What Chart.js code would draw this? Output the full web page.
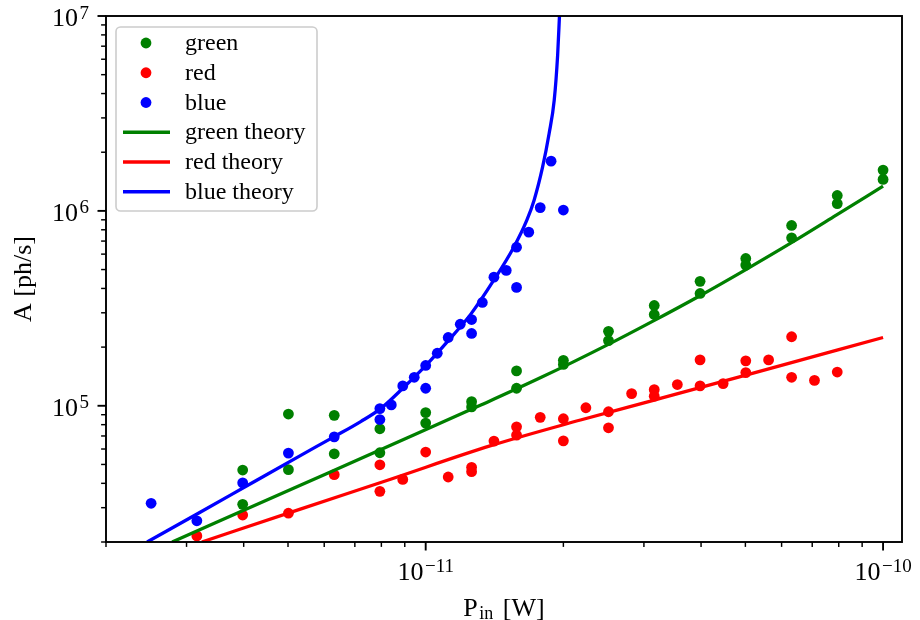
<!DOCTYPE html>
<html>
<head>
<meta charset="utf-8">
<script src="https://cdn.jsdelivr.net/npm/chart.js@4"></script>
<style>
  html, body { margin: 0; padding: 0; background: #fff; }
  #wrap { width: 920px; height: 620px; }
</style>
</head>
<body>
<div id="wrap"><canvas id="chart" width="920" height="620"></canvas></div>
<script>
// axis ranges and labelled decades
const xMin = 2e-12, xMax = 1.1e-10;
const yMin = 2e4, yMax = 1e7;
const xMajorTicks = [1e-11, 1e-10];
const xMajorExps = ["\u221211", "\u221210"];
const yMajorTicks = [1e5, 1e6, 1e7];
const yMajorExps = ["5", "6", "7"];
const xTitle = ["P", "in", " [W]"];
const yTitle = "A [ph/s]";

// measured points
const greenX = [3.98e-12, 3.98e-12, 5.01e-12, 5.01e-12, 6.31e-12, 6.31e-12, 7.94e-12, 7.94e-12,
  1.0e-11, 1.0e-11, 1.26e-11, 1.26e-11, 1.58e-11, 1.58e-11, 2.0e-11, 2.0e-11,
  2.51e-11, 2.51e-11, 3.16e-11, 3.16e-11, 3.98e-11, 3.98e-11, 5.01e-11, 5.01e-11,
  6.31e-11, 6.31e-11, 7.94e-11, 7.94e-11, 1.0e-10, 1.0e-10];
const greenY = [4.68e4, 3.12e4, 9.07e4, 4.70e4, 8.93e4, 5.67e4, 7.62e4, 5.74e4,
  9.23e4, 8.15e4, 1.05e5, 9.87e4, 1.51e5, 1.23e5, 1.71e5, 1.63e5,
  2.41e5, 2.16e5, 3.27e5, 2.94e5, 4.35e5, 3.77e5, 5.70e5, 5.27e5,
  8.42e5, 7.27e5, 1.20e6, 1.09e6, 1.62e6, 1.45e6];

const redX = [3.16e-12, 3.98e-12, 5.01e-12, 6.31e-12, 7.94e-12, 7.94e-12, 8.91e-12, 1.0e-11,
  1.12e-11, 1.26e-11, 1.26e-11, 1.41e-11, 1.58e-11, 1.58e-11, 1.78e-11, 2.0e-11, 2.0e-11,
  2.24e-11, 2.51e-11, 2.51e-11, 2.82e-11, 3.16e-11, 3.16e-11, 3.55e-11, 3.98e-11, 3.98e-11,
  4.47e-11, 5.01e-11, 5.01e-11, 5.62e-11, 6.31e-11, 6.31e-11, 7.08e-11, 7.94e-11];
const redY = [2.15e4, 2.75e4, 2.81e4, 4.43e4, 4.98e4, 3.64e4, 4.19e4, 5.79e4,
  4.31e4, 4.83e4, 4.59e4, 6.59e4, 7.80e4, 7.07e4, 8.72e4, 8.58e4, 6.61e4,
  9.77e4, 9.32e4, 7.71e4, 1.155e5, 1.21e5, 1.12e5, 1.285e5, 1.72e5, 1.265e5,
  1.30e5, 1.70e5, 1.48e5, 1.72e5, 2.26e5, 1.40e5, 1.35e5, 1.49e5];

const blueX = [2.51e-12, 3.16e-12, 3.98e-12, 5.01e-12, 6.31e-12, 7.94e-12, 7.94e-12, 8.41e-12,
  8.91e-12, 9.44e-12, 1.0e-11, 1.0e-11, 1.06e-11, 1.12e-11, 1.19e-11, 1.26e-11, 1.26e-11,
  1.33e-11, 1.41e-11, 1.5e-11, 1.58e-11, 1.58e-11, 1.68e-11, 1.78e-11, 1.88e-11, 2.0e-11];
const blueY = [3.16e4, 2.57e4, 4.02e4, 5.72e4, 6.93e4, 9.67e4, 8.50e4, 1.01e5,
  1.265e5, 1.40e5, 1.61e5, 1.23e5, 1.86e5, 2.24e5, 2.62e5, 2.77e5, 2.35e5,
  3.39e5, 4.57e5, 4.95e5, 6.51e5, 4.05e5, 7.78e5, 1.04e6, 1.80e6, 1.01e6];

// theory curves
const greenTheoryX = [2.79e-12, 5.32e-12, 8.38e-12, 1.32e-11, 1.785e-11, 2.49e-11, 3.14e-11,
  3.96e-11, 4.99e-11, 6.28e-11, 7.90e-11, 1.0e-10];
const greenTheoryY = [2.0e4, 3.91e4, 6.27e4, 1.008e5, 1.395e5, 2.048e5, 2.72e5,
  3.65e5, 4.97e5, 6.83e5, 9.51e5, 1.34e6];

const redTheoryX = [3.24e-12, 5.32e-12, 8.38e-12, 1.388e-11, 2.18e-11, 3.16e-11, 5.06e-11, 1.0e-10];
const redTheoryY = [2.0e4, 2.95e4, 4.20e4, 6.24e4, 8.45e4, 1.07e5, 1.445e5, 2.24e5];

const blueTheoryX = [2.46e-12, 3.22e-12, 4.14e-12, 5.32e-12, 6.30e-12, 7.21e-12, 7.97e-12,
  8.92e-12, 1.0e-11, 1.123e-11, 1.255e-11, 1.409e-11, 1.558e-11, 1.664e-11, 1.726e-11,
  1.801e-11, 1.862e-11, 1.910e-11, 1.943e-11, 1.961e-11];
const blueTheoryY = [2.0e4, 2.85e4, 3.98e4, 5.55e4, 6.93e4, 8.30e4, 9.67e4,
  1.233e5, 1.608e5, 2.173e5, 2.953e5, 4.41e5, 6.51e5, 8.96e5, 1.135e6,
  1.675e6, 2.503e6, 3.70e6, 6.29e6, 1.0e7];

const SERIF = "'Liberation Serif', 'DejaVu Serif', serif";
const zip = (xs, ys) => xs.map((x, i) => ({ x, y: ys[i] }));

function points(label, color, xs, ys, order) {
  return {
    label, data: zip(xs, ys), order,
    showLine: false, pointRadius: 5.4, pointHoverRadius: 5.4,
    pointBackgroundColor: color, pointBorderWidth: 0, borderColor: color, backgroundColor: color
  };
}

function theory(label, color, xs, ys, order) {
  return {
    label, data: zip(xs, ys), order,
    showLine: true, pointRadius: 0, pointHoverRadius: 0,
    borderColor: color, backgroundColor: color, borderWidth: 3.3,
    cubicInterpolationMode: "monotone", fill: false, clip: 0
  };
}

function drawPower(ctx, exp, x, baseY, align) {
  ctx.font = `26px ${SERIF}`;
  const wb = ctx.measureText("10").width;
  ctx.font = `19px ${SERIF}`;
  const we = ctx.measureText(exp).width;
  const total = wb + 1.5 + we;
  const left = align === "center" ? x - total / 2 : x - total;
  ctx.textAlign = "left";
  ctx.textBaseline = "alphabetic";
  ctx.font = `26px ${SERIF}`;
  ctx.fillText("10", left, baseY);
  ctx.font = `19px ${SERIF}`;
  ctx.fillText(exp, left + wb + 1.5, baseY - 7.5);
}

function minorValues(min, max) {
  const out = [];
  for (let e = Math.floor(Math.log10(min)); e <= Math.ceil(Math.log10(max)); e++) {
    for (let m = 1; m <= 9; m++) {
      const v = m * Math.pow(10, e);
      if (v >= min * 0.9999 && v <= max * 1.0001) out.push({ v, major: m === 1 });
    }
  }
  return out;
}

const axesPlugin = {
  id: "mplAxes",
  afterDraw(chart) {
    const { ctx, chartArea: a, scales: { x, y } } = chart;
    ctx.save();
    ctx.fillStyle = "#000";
    ctx.strokeStyle = "#000";

    // ticks
    minorValues(xMin, xMax).forEach(t => {
      const px = x.getPixelForValue(t.v);
      ctx.lineWidth = t.major ? 1.9 : 1.45;
      ctx.beginPath();
      ctx.moveTo(px, a.bottom);
      ctx.lineTo(px, a.bottom + (t.major ? 8.5 : 4.9));
      ctx.stroke();
    });
    minorValues(yMin, yMax).forEach(t => {
      const py = y.getPixelForValue(t.v);
      ctx.lineWidth = t.major ? 1.9 : 1.45;
      ctx.beginPath();
      ctx.moveTo(a.left, py);
      ctx.lineTo(a.left - (t.major ? 8.5 : 4.9), py);
      ctx.stroke();
    });

    // spines
    ctx.lineWidth = 1.9;
    ctx.strokeRect(a.left, a.top, a.right - a.left, a.bottom - a.top);

    // tick labels
    xMajorTicks.forEach((v, i) => drawPower(ctx, xMajorExps[i], x.getPixelForValue(v), a.bottom + 37.5, "center"));
    yMajorTicks.forEach((v, i) => drawPower(ctx, yMajorExps[i], a.left - 17, y.getPixelForValue(v) + 10, "right"));

    // x title with subscript
    ctx.font = `26px ${SERIF}`;
    const w0 = ctx.measureText(xTitle[0]).width;
    const w2 = ctx.measureText(xTitle[2]).width;
    ctx.font = `18px ${SERIF}`;
    const w1 = ctx.measureText(xTitle[1]).width;
    const tot = w0 + 1.5 + w1 + w2 + 3;
    const tx = (a.left + a.right) / 2 - tot / 2;
    const by = a.bottom + 73.7;
    ctx.textAlign = "left";
    ctx.textBaseline = "alphabetic";
    ctx.font = `26px ${SERIF}`;
    ctx.fillText(xTitle[0], tx, by);
    ctx.font = `18px ${SERIF}`;
    ctx.fillText(xTitle[1], tx + w0 + 1.5, by + 3);
    ctx.font = `26px ${SERIF}`;
    ctx.fillText(xTitle[2], tx + w0 + 1.5 + w1 + 3, by);

    // y title
    ctx.save();
    ctx.translate(31, (a.top + a.bottom) / 2);
    ctx.rotate(-Math.PI / 2);
    ctx.textAlign = "center";
    ctx.font = `26px ${SERIF}`;
    ctx.fillText(yTitle, 0, 0);
    ctx.restore();

    // legend
    const L = 116, T = 27, R = 317, B = 211, r = 4.5;
    ctx.beginPath();
    ctx.moveTo(L + r, T);
    ctx.arcTo(R, T, R, B, r);
    ctx.arcTo(R, B, L, B, r);
    ctx.arcTo(L, B, L, T, r);
    ctx.arcTo(L, T, R, T, r);
    ctx.closePath();
    ctx.fillStyle = "rgba(255,255,255,0.8)";
    ctx.fill();
    ctx.strokeStyle = "#cccccc";
    ctx.lineWidth = 1.6;
    ctx.stroke();

    chart.data.datasets.forEach((ds, i) => {
      const cy = 43 + i * 29.75;
      if (ds.showLine) {
        ctx.strokeStyle = ds.borderColor;
        ctx.lineWidth = ds.borderWidth;
        ctx.beginPath();
        ctx.moveTo(123, cy);
        ctx.lineTo(170, cy);
        ctx.stroke();
      } else {
        ctx.fillStyle = ds.pointBackgroundColor;
        ctx.beginPath();
        ctx.arc(146, cy, 5.4, 0, Math.PI * 2);
        ctx.fill();
      }
      ctx.fillStyle = "#000";
      ctx.font = `24px ${SERIF}`;
      ctx.textAlign = "left";
      ctx.textBaseline = "alphabetic";
      ctx.fillText(ds.label, 185, cy + 7);
    });

    ctx.restore();
  }
};

new Chart(document.getElementById("chart"), {
  type: "scatter",
  data: {
    datasets: [
      points("green", "green", greenX, greenY, 6),
      points("red", "red", redX, redY, 5),
      points("blue", "blue", blueX, blueY, 4),
      theory("green theory", "green", greenTheoryX, greenTheoryY, 3),
      theory("red theory", "red", redTheoryX, redTheoryY, 2),
      theory("blue theory", "blue", blueTheoryX, blueTheoryY, 1)
    ]
  },
  options: {
    responsive: false,
    animation: false,
    devicePixelRatio: 1,
    layout: { padding: { left: 106, right: 18, top: 16, bottom: 78 } },
    plugins: { legend: { display: false }, tooltip: { enabled: false } },
    events: [],
    scales: {
      x: { type: "logarithmic", min: xMin, max: xMax, display: false },
      y: { type: "logarithmic", min: yMin, max: yMax, display: false }
    }
  },
  plugins: [axesPlugin]
});
</script>
</body>
</html>
